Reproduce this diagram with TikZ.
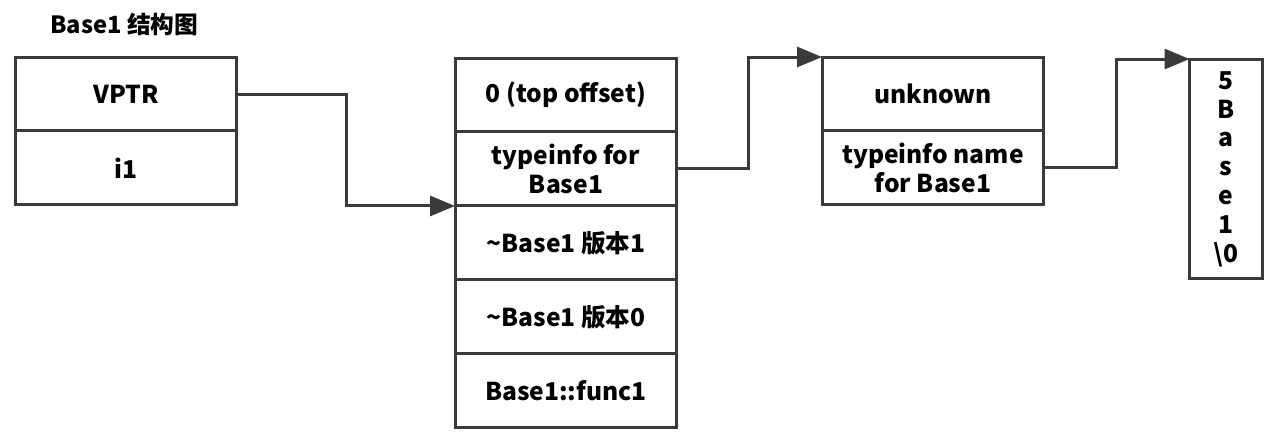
\documentclass[tikz,border=0pt]{standalone}
\usepackage{fontspec}
\setmainfont{Noto Sans CJK SC}
\usetikzlibrary{positioning,arrows.meta}

\definecolor{linegray}{HTML}{3A3A3A}

\tikzset{
  cell/.style={draw=linegray, line width=0.06cm, minimum width=4.44cm, minimum height=1.48cm,
    outer sep=0pt, inner sep=1pt, align=center, font=\fontsize{14}{16.4}\selectfont\bfseries},
  link/.style={draw=linegray, line width=0.06cm, -{Triangle[length=0.5cm,width=0.4cm]}}
}

\begin{document}
\begin{tikzpicture}[x=0.02cm,y=-0.02cm]
\useasboundingbox (0,0) rectangle (1286,443);

\node[anchor=west, font=\fontsize{13.5}{16}\selectfont\bfseries] (title) at (44,24) {Base1 结构图};

% object
\node[cell] (vptr) at (126,94) {VPTR};
\node[cell, below=0pt of vptr] (i1) {i1};

% vtable
\node[cell] (offs) at (566,95) {0 (top offset)};
\node[cell, below=0pt of offs] (tinfo) {typeinfo for\\Base1};
\node[cell, below=0pt of tinfo] (dtor1) {\textasciitilde Base1 版本1};
\node[cell, below=0pt of dtor1] (dtor0) {\textasciitilde Base1 版本0};
\node[cell, below=0pt of dtor0] (func) {Base1::func1};

% typeinfo
\node[cell] (unk) at (933,94) {unknown};
\node[cell, below=0pt of unk] (tname) {typeinfo name\\for Base1};

% name string
\node[cell, minimum width=1.46cm, minimum height=4.4cm] (str) at (1226,169)
  {5\\B\\a\\s\\e\\1\\\textbackslash0};

\coordinate (k1) at (346,0);
\coordinate (k2) at (748,0);
\coordinate (k3) at (1116,0);

\draw[link] (vptr.east) -- (vptr.east -| k1) |- (tinfo.south west);
\draw[link] (tinfo.east) -- (tinfo.east -| k2) |- (unk.north west);
\draw[link] (tname.east) -- (tname.east -| k3) |- (str.north west);

\end{tikzpicture}
\end{document}
